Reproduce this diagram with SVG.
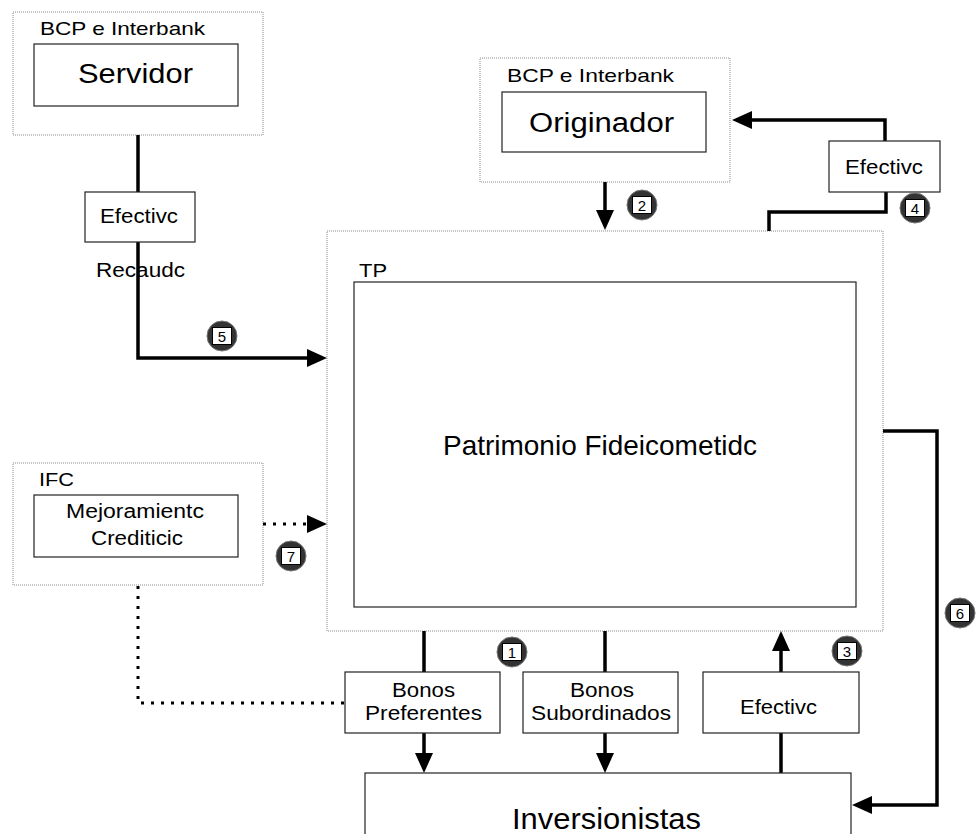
<svg xmlns="http://www.w3.org/2000/svg" width="976" height="834" viewBox="0 0 976 834">
<style>
.grp{fill:none;stroke:#8a8a8a;stroke-width:1;stroke-dasharray:1 1}
.box{fill:#fff;stroke:#222;stroke-width:1.2}
.t{font-family:"Liberation Sans",Arial,sans-serif;fill:#000}
.s18{font-size:18.5px}
.s20{font-size:20px}
.s28{font-size:28px}
.ln{fill:none;stroke:#000;stroke-width:3.5}
.dot{fill:none;stroke:#000;stroke-width:3;stroke-dasharray:3 7}
.bc{fill:#333;stroke:#777;stroke-width:1}
.bs{fill:#fff;stroke:#000;stroke-width:1}
.bt{font-family:"Liberation Sans",Arial,sans-serif;font-size:15px;fill:#000;text-anchor:middle}
</style>
<defs>
<marker id="ah" markerUnits="userSpaceOnUse" markerWidth="20" markerHeight="18" refX="1" refY="9" orient="auto" overflow="visible">
<path d="M0,0 L20,9 L0,18 z" fill="#000"/>
</marker>
</defs>

<g id="servidor">
<rect class="grp" x="13" y="12" width="250" height="123"/>
<text class="t s18" x="40" y="35" textLength="165" lengthAdjust="spacingAndGlyphs">BCP e Interbank</text>
<rect class="box" x="34" y="44" width="204" height="62"/>
<text class="t s28" x="78" y="83" textLength="115" lengthAdjust="spacingAndGlyphs">Servidor</text>
</g>

<g id="originador">
<rect class="grp" x="480" y="58" width="250" height="124"/>
<text class="t s18" x="507" y="82" textLength="167" lengthAdjust="spacingAndGlyphs">BCP e Interbank</text>
<rect class="box" x="502" y="92" width="204" height="60"/>
<text class="t" style="font-size:27px" x="529" y="132" textLength="145" lengthAdjust="spacingAndGlyphs">Originador</text>
</g>

<g id="tp">
<rect class="grp" x="327" y="231" width="556" height="400"/>
<text class="t" style="font-size:19px" x="359" y="277" textLength="28" lengthAdjust="spacingAndGlyphs">TP</text>
<rect class="box" x="354" y="282" width="502" height="325"/>
<text class="t" style="font-size:28px" x="443" y="455" textLength="314" lengthAdjust="spacingAndGlyphs">Patrimonio Fideicometidc</text>
</g>

<g id="ifc">
<rect class="grp" x="13" y="463" width="250" height="122"/>
<text class="t s18" x="39" y="486" textLength="35" lengthAdjust="spacingAndGlyphs">IFC</text>
<rect class="box" x="34" y="495" width="204" height="62"/>
<text class="t s20" x="66" y="518" textLength="138" lengthAdjust="spacingAndGlyphs">Mejoramientc</text>
<text class="t s20" x="91" y="545" textLength="92" lengthAdjust="spacingAndGlyphs">Crediticic</text>
</g>

<g id="connectors">
<polyline class="ln" points="138,135 138,192"/>
<polyline class="ln" points="138,242 138,358 308,358" marker-end="url(#ah)"/>
<polyline class="ln" points="605,182 605,211" marker-end="url(#ah)"/>
<polyline class="ln" points="885,141 885,120 751,120" marker-end="url(#ah)"/>
<polyline class="ln" points="886,192 886,212 769,212 769,231"/>
<polyline class="ln" points="883,431 937,431 937,805 871,805" marker-end="url(#ah)"/>
<polyline class="dot" points="263,524 308,524"/>
<polyline fill="none" stroke="none" points="300,524 308,524" marker-end="url(#ah)"/>
<polyline class="dot" points="138,586 138,703 345,703"/>
<polyline class="ln" points="424,631 424,672"/>
<polyline class="ln" points="424,733 424,754" marker-end="url(#ah)"/>
<polyline class="ln" points="605,631 605,672"/>
<polyline class="ln" points="605,733 605,754" marker-end="url(#ah)"/>
<polyline class="ln" points="781,773 781,733"/>
<polyline class="ln" points="781,672 781,650" marker-end="url(#ah)"/>
</g>

<g id="efectivo-servidor">
<rect class="box" x="85" y="192" width="110" height="50"/>
<text class="t s20" x="100" y="223" textLength="78" lengthAdjust="spacingAndGlyphs">Efectivc</text>
</g>
<text class="t s20" x="96" y="277" textLength="89" lengthAdjust="spacingAndGlyphs">Recaudc</text>

<g id="efectivo-originador">
<rect class="box" x="829" y="141" width="111" height="51"/>
<text class="t s20" x="845" y="174" textLength="78" lengthAdjust="spacingAndGlyphs">Efectivc</text>
</g>

<g id="bonos-preferentes">
<rect class="box" x="345" y="672" width="155" height="61"/>
<text class="t s20" x="392" y="697" textLength="63" lengthAdjust="spacingAndGlyphs">Bonos</text>
<text class="t s20" x="365" y="720" textLength="117" lengthAdjust="spacingAndGlyphs">Preferentes</text>
</g>

<g id="bonos-subordinados">
<rect class="box" x="523" y="672" width="155" height="61"/>
<text class="t s20" x="570" y="697" textLength="64" lengthAdjust="spacingAndGlyphs">Bonos</text>
<text class="t s20" x="531" y="720" textLength="140" lengthAdjust="spacingAndGlyphs">Subordinados</text>
</g>

<g id="efectivo-inversionistas">
<rect class="box" x="703" y="672" width="156" height="61"/>
<text class="t s20" x="740" y="714" textLength="77" lengthAdjust="spacingAndGlyphs">Efectivc</text>
</g>

<g id="inversionistas">
<rect class="box" x="365" y="773" width="486" height="80"/>
<text class="t" style="font-size:29px" x="512" y="829" textLength="189" lengthAdjust="spacingAndGlyphs">Inversionistas</text>
</g>

<g id="badge-1"><circle class="bc" cx="512" cy="652" r="15"/><rect class="bs" x="502.5" y="643.5" width="19" height="17"/><text class="bt" x="512" y="658">1</text></g>
<g id="badge-2"><circle class="bc" cx="642" cy="205" r="15"/><rect class="bs" x="632.5" y="196.5" width="19" height="17"/><text class="bt" x="642" y="211">2</text></g>
<g id="badge-3"><circle class="bc" cx="847" cy="651" r="15"/><rect class="bs" x="837.5" y="642.5" width="19" height="17"/><text class="bt" x="847" y="657">3</text></g>
<g id="badge-4"><circle class="bc" cx="915" cy="208" r="15"/><rect class="bs" x="905.5" y="199.5" width="19" height="17"/><text class="bt" x="915" y="214">4</text></g>
<g id="badge-5"><circle class="bc" cx="222" cy="336" r="15"/><rect class="bs" x="212.5" y="327.5" width="19" height="17"/><text class="bt" x="222" y="342">5</text></g>
<g id="badge-6"><circle class="bc" cx="960" cy="613" r="15"/><rect class="bs" x="950.5" y="604.5" width="19" height="17"/><text class="bt" x="960" y="619">6</text></g>
<g id="badge-7"><circle class="bc" cx="291" cy="556" r="15"/><rect class="bs" x="281.5" y="547.5" width="19" height="17"/><text class="bt" x="291" y="562">7</text></g>
</svg>
